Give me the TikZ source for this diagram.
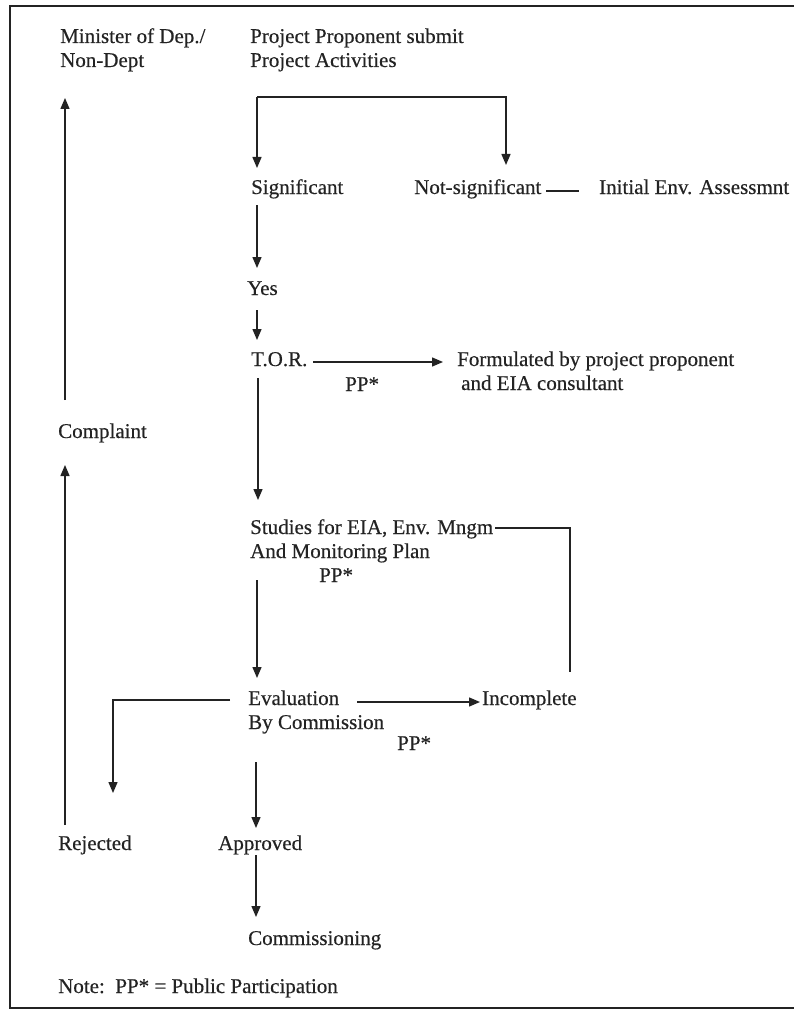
\documentclass[tikz,border=0pt]{standalone}
\usepackage{fontspec}
\setmainfont{Liberation Serif}[FakeBold=0.4]
\usetikzlibrary{arrows.meta,calc}
\definecolor{ink}{RGB}{35,35,35}
\begin{document}
\begin{tikzpicture}[x=1pt,y=-1pt,
  lbl/.style={anchor=base west, inner sep=0pt, font=\fontsize{21}{24}\selectfont, align=left, text=ink},
  arr/.style={line width=1.4pt, draw=ink, -{Triangle[length=11pt,width=9pt]}},
  ln/.style={line width=1.4pt, draw=ink}]
\useasboundingbox (0,0) rectangle (793,1019);
\draw[ln] (800,6) -- (10,6) -- (10,1008) -- (800,1008);

% multi-line nodes: base = baseline of their last line
\node[lbl] (min)  at (60,67)  {Minister of Dep./\\Non-Dept};
\node[lbl] (pps)  at (250,67) {Project Proponent submit\\Project Activities};
\node[lbl] (sig)  at (251,194) {Significant};
\node[lbl] (nsig) at (414,194) {Not-significant};
\node[lbl] (iea)  at (599,194) {Initial Env. Assessmnt};
\node[lbl] (yes)  at (247,295) {Yes};
\node[lbl] (tor)  at (251,366) {T.O.R.};
\node[lbl] (form) at (457,390) {Formulated by project proponent\\\hspace*{4pt}and EIA consultant};
\node[lbl] (pp1)  at (345,391) {PP*};
\node[lbl] (comp) at (58,438) {Complaint};
\node[lbl] (stud) at (250,558) {Studies for EIA, Env. Mngm\\And Monitoring Plan};
\node[lbl] (pp2)  at (319,582) {PP*};
\node[lbl] (eval) at (248,729) {Evaluation\\By Commission};
\node[lbl] (inc)  at (482,705) {Incomplete};
\node[lbl] (pp3)  at (397,750) {PP*};
\node[lbl] (rej)  at (58,850) {Rejected};
\node[lbl] (appr) at (218,850) {Approved};
\node[lbl] (comm) at (248,945) {Commissioning};
\node[lbl] (note) at (58,993) {Note:\ \ PP* = Public Participation};

\coordinate (fork) at ($(pps.base west)+(7,30)$);
\draw[arr] (fork) -- ($(sig.base west)+(6,-26)$);
\draw[arr] (fork) -| ($(nsig.base west)+(92,-29)$);
\draw[ln] ($(nsig.base west)+(132,-3)$) -- ($(iea.base west)+(-20,-3)$);
\draw[arr] ($(sig.base west)+(6,11)$) -- ($(yes.base west)+(10,-27)$);
\draw[arr] ($(yes.base west)+(10,15)$) -- ($(tor.base west)+(6,-26)$);
\draw[arr] ($(tor.base west)+(62,-4)$) -- ($(form.base west)+(-14,-28)$);
\draw[arr] ($(tor.base west)+(7,12)$) -- ($(stud.base west)+(8,-58)$);
\draw[ln] ($(stud.base west)+(245,-30)$) -| ($(inc.base west)+(88,-33)$);
\draw[arr] ($(stud.base west)+(7,22)$) -- ($(eval.base west)+(9,-51)$);
\draw[arr] ($(eval.base west)+(109,-27)$) -- ($(inc.base west)+(-2,-3)$);
\draw[arr] ($(eval.base west)+(-18,-29)$) -| ($(rej.base west)+(55,-57)$);
\draw[arr] ($(eval.base west)+(8,33)$) -- ($(appr.base west)+(38,-22)$);
\draw[arr] ($(appr.base west)+(38,5)$) -- ($(comm.base west)+(8,-28)$);
\draw[arr] ($(rej.base west)+(7,-25)$) -- ($(comp.base west)+(7,27)$);
\draw[arr] ($(comp.base west)+(7,-38)$) -- ($(min.base west)+(5,31)$);
\end{tikzpicture}
\end{document}
